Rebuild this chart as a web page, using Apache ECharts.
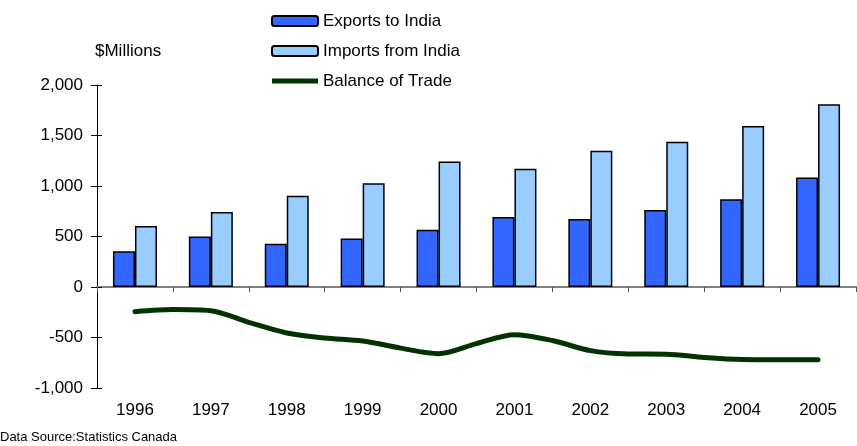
<!DOCTYPE html>
<html>
<head>
  <meta charset="UTF-8">
  <title>Canada - India trade</title>
  <script src="https://cdn.jsdelivr.net/npm/echarts@6/dist/echarts.min.js"></script>
</head>
<body style="margin:0">
<div id="main" style="width: 857px; height: 446px;"></div>
<script type="text/javascript">
  var years = ['1996', '1997', '1998', '1999', '2000', '2001', '2002', '2003', '2004', '2005'];
  var exportsToIndia = [353, 500, 427, 480, 567, 693, 673, 763, 870, 1083];
  var importsFromIndia = [603, 743, 903, 1027, 1243, 1170, 1350, 1437, 1593, 1810];
  // balance is plotted at half-year steps
  var balanceTimes = [1996, 1996.5, 1997, 1997.5, 1998, 1998.5, 1999, 1999.5, 2000, 2000.5,
    2001, 2001.5, 2002, 2002.5, 2003, 2003.5, 2004, 2004.5, 2005];
  var balanceOfTrade = [-244, -224, -235, -350, -455, -505, -535, -605, -660, -560,
    -472, -530, -630, -663, -666, -698, -718, -720, -720];
  var yTicks = [-1000, -500, 0, 500, 1000, 1500, 2000];

  var font = 'Liberation Sans, Arial, sans-serif';

  var myChart = echarts.init(document.getElementById('main'));

  var option = {
    animation: false,
    textStyle: {fontFamily: font, color: '#000'},
    grid: {left: 97, right: 1, top: 85, bottom: 58},
    legend: {
      orient: 'vertical',
      left: 266,
      top: 7,
      itemWidth: 46,
      itemHeight: 10,
      itemGap: 12,
      textStyle: {fontSize: 17, color: '#000', fontFamily: font, lineHeight: 18},
      data: [
        'Exports to India',
        'Imports from India',
        {name: 'Balance of Trade', icon: 'path://M0,0 L46,0 L46,5 L0,5 Z', itemStyle: {color: '#003300'}}
      ]
    },
    graphic: [
      {type: 'text', left: 95, top: 43, style: {text: '$Millions', fontSize: 17, fontFamily: font, fill: '#000'}},
      {type: 'text', left: 0, top: 431, style: {text: 'Data Source:Statistics Canada', fontSize: 13, fontFamily: font, fill: '#000'}}
    ],
    xAxis: [
      {
        type: 'category',
        data: years,
        axisLine: {onZero: true, lineStyle: {color: '#808080', width: 2}},
        axisTick: {show: true, length: 5, lineStyle: {color: '#555'}},
        axisLabel: {show: false}
      },
      {
        type: 'category',
        data: years,
        position: 'bottom',
        axisLine: {show: false, onZero: false},
        axisTick: {show: false},
        axisLabel: {fontSize: 17, color: '#000', margin: 14, fontFamily: font}
      },
      {
        type: 'value',
        min: 1995.5,
        max: 2005.5,
        show: false
      }
    ],
    yAxis: [
      {
        type: 'value',
        min: yTicks[0],
        max: yTicks[yTicks.length - 1],
        interval: 500,
        splitLine: {show: false},
        axisLine: {show: true, lineStyle: {color: '#000', width: 1}},
        axisTick: {show: true, length: 6, lineStyle: {color: '#000'}},
        axisLabel: {
          fontSize: 17, color: '#000', margin: 14, fontFamily: font,
          formatter: function (v) {
            return v.toLocaleString('en-US');
          }
        }
      },
      {
        // inner half of the crossing ticks
        type: 'value',
        min: yTicks[0],
        max: yTicks[yTicks.length - 1],
        interval: 500,
        position: 'left',
        splitLine: {show: false},
        axisLine: {show: false},
        axisTick: {show: true, inside: true, length: 5, lineStyle: {color: '#000'}},
        axisLabel: {show: false}
      }
    ],
    series: [
      {
        name: 'Exports to India',
        type: 'bar',
        data: exportsToIndia,
        barWidth: 22,
        barGap: '0%',
        itemStyle: {color: '#3366ff', borderColor: '#000', borderWidth: 1.5}
      },
      {
        name: 'Imports from India',
        type: 'bar',
        data: importsFromIndia,
        barWidth: 22,
        barGap: '0%',
        itemStyle: {color: '#99ccff', borderColor: '#000', borderWidth: 1.5}
      },
      {
        name: 'Balance of Trade',
        type: 'line',
        xAxisIndex: 2,
        data: balanceTimes.map(function (t, i) {
          return [t, balanceOfTrade[i]];
        }),
        smooth: 0.3,
        symbol: 'none',
        lineStyle: {color: '#003300', width: 5, cap: 'round'},
        itemStyle: {color: '#003300'}
      }
    ]
  };

  myChart.setOption(option);
</script>
</body>
</html>
